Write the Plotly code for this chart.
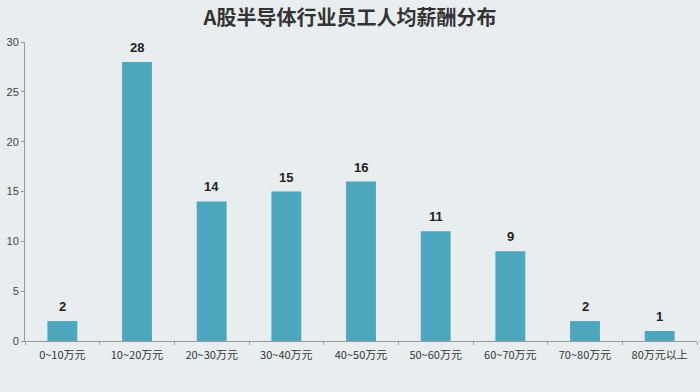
import plotly.graph_objects as go

categories = ["0~10万元", "10~20万元", "20~30万元", "30~40万元", "40~50万元",
              "50~60万元", "60~70万元", "70~80万元", "80万元以上"]
values = [2, 28, 14, 15, 16, 11, 9, 2, 1]
y_ticks = [0, 5, 10, 15, 20, 25, 30]

bg = "#e8eef0"
fig = go.Figure(go.Bar(
    x=categories, y=values,
    marker=dict(color="#4ba6be", line=dict(width=0)),
    cliponaxis=False,
))
for c, v in zip(categories, values):
    fig.add_annotation(x=c, y=v, text=f"<b>{v}</b>", showarrow=False,
                       yanchor="bottom", yshift=5,
                       font=dict(family="Liberation Sans, Arial", size=13, color="#222222"))
fig.update_layout(
    width=700, height=392,
    margin=dict(l=25, r=3, t=42, b=51),
    paper_bgcolor=bg, plot_bgcolor=bg,
    bargap=0.6,
    showlegend=False,
    title=dict(text="<b>A股半导体行业员工人均薪酬分布</b>", x=0.5, xanchor="center",
               y=0.955, yanchor="middle",
               font=dict(family="Noto Sans CJK SC", size=20, color="#333333")),
    font=dict(family="Noto Sans CJK SC", size=11, color="#333333"),
)
fig.update_yaxes(range=[0, 30], tickvals=y_ticks, showgrid=False, zeroline=False,
                 showline=True, linecolor="#999999", linewidth=1,
                 ticks="outside", ticklen=3, tickcolor="#999999",
                 tickfont=dict(family="Liberation Sans, Arial", size=11, color="#444444"))
fig.update_xaxes(showgrid=False, showline=True, linecolor="#999999", linewidth=1,
                 ticks="outside", ticklen=3, tickcolor="#999999",
                 tickson="boundaries", ticklabelstandoff=4,
                 tickfont=dict(family="Noto Sans CJK SC", size=11, color="#333333"))
fig.write_html("out.html")
